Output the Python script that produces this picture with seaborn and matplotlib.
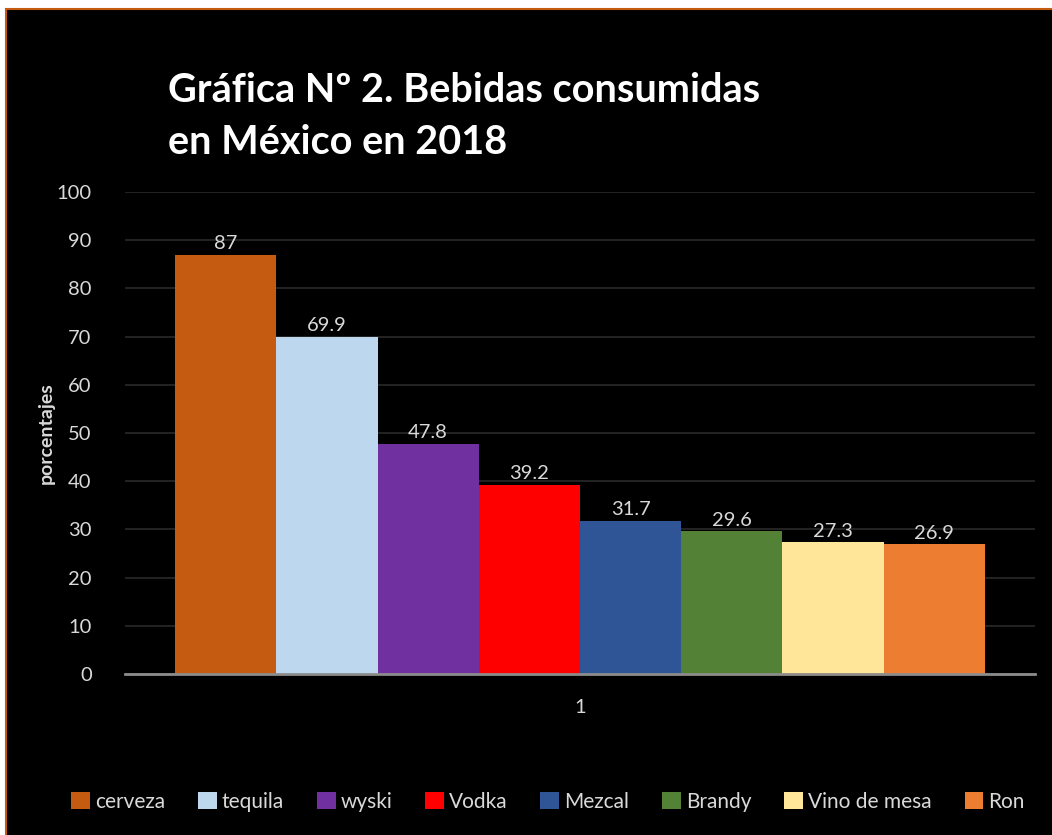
import matplotlib
matplotlib.use("Agg")
import matplotlib.pyplot as plt
from matplotlib.patches import Rectangle, Patch
import seaborn as sns
import pandas as pd

bebidas = ["cerveza", "tequila", "wyski", "Vodka", "Mezcal", "Brandy", "Vino de mesa", "Ron"]
porcentajes = [87, 69.9, 47.8, 39.2, 31.7, 29.6, 27.3, 26.9]
grupo = ["1"] * len(bebidas)
colores = ["#C55A11", "#BDD7EE", "#7030A0", "#FF0000", "#2F5597", "#538135", "#FFE699", "#ED7D31"]
yticks = [0, 10, 20, 30, 40, 50, 60, 70, 80, 90, 100]

df = pd.DataFrame({"grupo": grupo, "bebida": bebidas, "valor": porcentajes})

sns.set_theme(style="dark")
plt.rcParams["font.family"] = ["Lato", "DejaVu Sans"]

W, H = 1052, 835
fig = plt.figure(figsize=(W / 100, H / 100), dpi=100, facecolor="white")
# black chart area with orange border
fig.patches.append(Rectangle((5.5 / W, -0.01), 1.02, 1 - 8.5 / H + 0.01,
                             transform=fig.transFigure, facecolor="black",
                             edgecolor="#C55A11", linewidth=1.5, zorder=-5))

ax = fig.add_axes([125 / W, (H - 674) / H, (1035 - 125) / W, (674 - 192) / H])
ax.set_facecolor("none")
ax.set_zorder(2)

sns.barplot(data=df, x="grupo", y="valor", hue="bebida", hue_order=bebidas,
            palette=colores, width=0.89, gap=0, linewidth=0, saturation=1,
            ax=ax, legend=True, errorbar=None)

ax.set_ylim(0, 100)
ax.set_yticks(yticks)
ax.grid(axis="y", color="#262626", linewidth=1.3)
ax.grid(axis="x", visible=False)
ax.set_axisbelow(True)
for s in ["top", "right", "left"]:
    ax.spines[s].set_visible(False)
ax.spines["bottom"].set_color("#8C8C8C")
ax.spines["bottom"].set_linewidth(2)
ax.tick_params(axis="both", length=0, colors="#D9D9D9", labelsize=14.5)
ax.tick_params(axis="x", pad=18)
ax.tick_params(axis="y", pad=24)
ax.set_xlabel("")
ax.set_ylabel("porcentajes", color="#D9D9D9", fontsize=14, fontweight="bold")
ax.yaxis.set_label_coords(-0.077, 0.5)

for cont in ax.containers:
    ax.bar_label(cont, fmt="%g", color="#D9D9D9", fontsize=14.5, padding=2)

handles, labels = ax.get_legend_handles_labels()
ax.get_legend().remove()
fig.legend(handles, labels, loc="center", bbox_to_anchor=(548 / W, (H - 802) / H),
           ncol=8, frameon=False, fontsize=15, labelcolor="#D9D9D9",
           handlelength=0.9, handleheight=0.9, handletextpad=0.25,
           columnspacing=1.57)

fig.text(168 / W, (H - 117) / H, "Gráfica Nº 2. Bebidas consumidas\nen México en 2018",
         color="white", fontsize=28.5, fontweight="bold", va="center", ha="left",
         linespacing=1.5)

fig.savefig("out.png", dpi=100, facecolor=fig.get_facecolor())
